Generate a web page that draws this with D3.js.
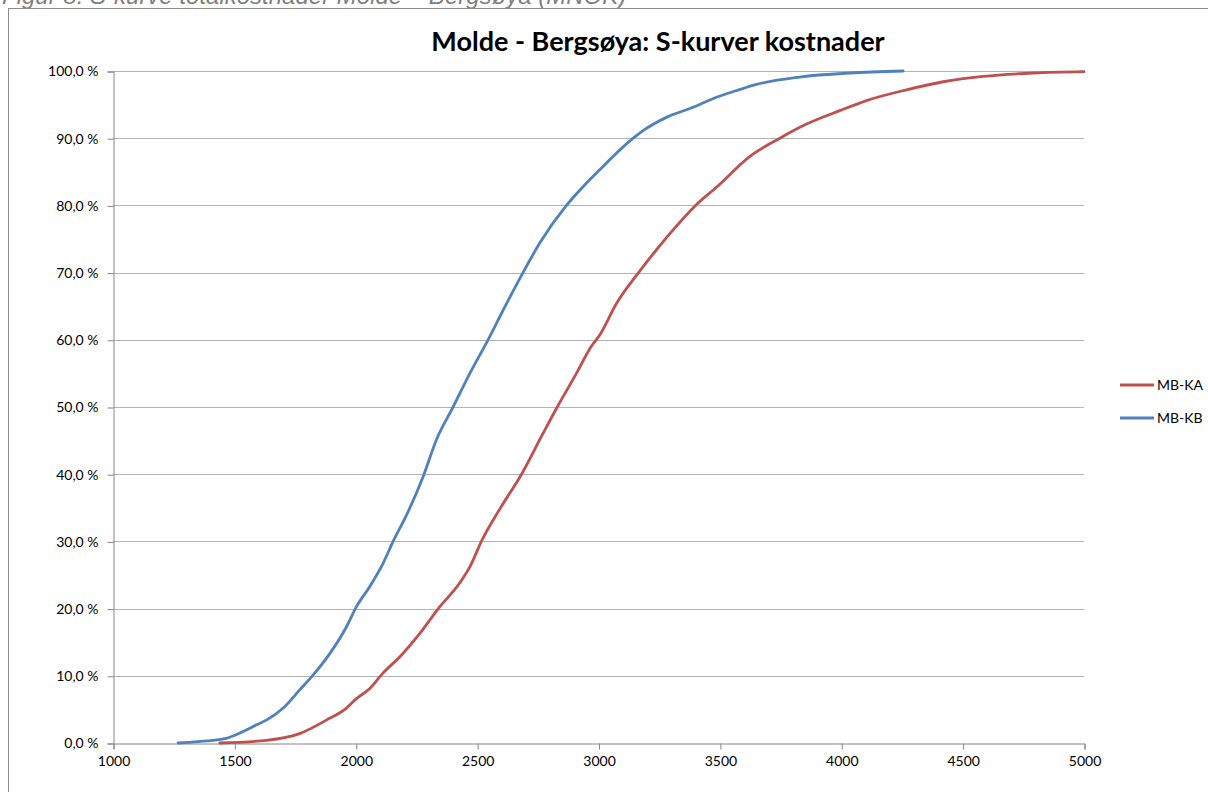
<!DOCTYPE html>
<html>
<head>
<meta charset="utf-8">
<script src="https://cdn.jsdelivr.net/npm/d3@7"></script>
<style>
body { margin: 0; background: #fff; }
svg { display: block; }
</style>
</head>
<body>
<div class="chart"></div>
<script>
var width = 1208, height = 792;

// data: cost (MNOK) and cumulative share (%)
var kaCost = [1440, 1632, 1769, 1879, 1962, 2003, 2058, 2112, 2181, 2264, 2340, 2428, 2470, 2520, 2593, 2683, 2772, 2830, 2909, 2970, 3005, 3074, 3165, 3239, 3294, 3400, 3486, 3624, 3747, 3857, 3994, 4104, 4269, 4420, 4585, 4791, 5000];
var kaPct = [0, 0.4, 1.4, 3.4, 5.2, 6.6, 8.1, 10.4, 12.8, 16.3, 20.0, 23.8, 26.2, 30.2, 34.8, 40.0, 46.1, 50.0, 55.0, 59.0, 60.7, 65.4, 70.0, 73.4, 75.8, 80.0, 82.7, 87.3, 90.0, 92.1, 94.1, 95.6, 97.2, 98.4, 99.2, 99.7, 99.9];

var kbCost = [1268, 1350, 1467, 1536, 1591, 1632, 1701, 1769, 1824, 1893, 1962, 2003, 2058, 2112, 2154, 2209, 2277, 2332, 2401, 2470, 2545, 2607, 2689, 2758, 2868, 2937, 3005, 3143, 3191, 3280, 3390, 3486, 3570, 3651, 3829, 4035, 4255];
var kbPct = [0, 0.2, 0.7, 1.7, 2.7, 3.4, 5.2, 7.9, 10.1, 13.3, 17.3, 20.3, 23.3, 26.7, 30.0, 33.9, 39.6, 45.1, 50.0, 55.0, 60.0, 64.4, 70.0, 74.4, 80.0, 82.8, 85.3, 90.0, 91.3, 93.1, 94.6, 96.1, 97.1, 98.0, 99.1, 99.7, 100];

var seriesNames = ['MB-KA', 'MB-KB'];
var seriesColors = ['#C0504D', '#4F81BD'];
var xTicks = [1000, 1500, 2000, 2500, 3000, 3500, 4000, 4500, 5000];
var yTicks = [0, 10, 20, 30, 40, 50, 60, 70, 80, 90, 100];

var series = [
	{ name: seriesNames[0], color: seriesColors[0], values: kaCost.map(function(c, i) { return { x: c, y: kaPct[i] }; }) },
	{ name: seriesNames[1], color: seriesColors[1], values: kbCost.map(function(c, i) { return { x: c, y: kbPct[i] }; }) }
];

var svg = d3.select('.chart')
	.append('svg')
	.attr('width', width)
	.attr('height', height);

// caption, cut off at the top of the page like in the source
svg.append('text')
	.attr('x', 2)
	.attr('y', 4)
	.attr('font-family', 'Liberation Sans, Arial, sans-serif')
	.attr('font-style', 'italic')
	.attr('font-size', 24)
	.attr('fill', '#7f7f7f')
	.text('Figur 8: S-kurve totalkostnader Molde – Bergsøya (MNOK)');

// chart frame
svg.append('rect')
	.attr('x', 8.5)
	.attr('y', 8.5)
	.attr('width', width + 20)
	.attr('height', height + 20)
	.attr('fill', 'none')
	.attr('stroke', '#8c8c8c')
	.attr('stroke-width', 1);

var x = d3.scaleLinear().domain([1000, 5000]).range([113, 1084]);
var y = d3.scaleLinear().domain([0, 100]).range([743, 71]);

// gridlines
svg.append('g')
	.selectAll('line')
	.data(yTicks.slice(1))
	.enter().append('line')
	.attr('x1', x(1000))
	.attr('x2', x(5000))
	.attr('y1', function(d) { return Math.round(y(d)) + 0.5; })
	.attr('y2', function(d) { return Math.round(y(d)) + 0.5; })
	.attr('stroke', '#b3b3b3')
	.attr('stroke-width', 1);

var fmtY = function(d) { return d3.format('.1f')(d).replace('.', ',') + ' %'; };

var yAxis = svg.append('g')
	.attr('transform', 'translate(' + (x(1000) + 0.5) + ',0.5)')
	.call(d3.axisLeft(y).tickValues(yTicks).tickFormat(fmtY).tickSize(6).tickPadding(9));

var xAxis = svg.append('g')
	.attr('transform', 'translate(0.5,' + (y(0) + 0.5) + ')')
	.call(d3.axisBottom(x).tickValues(xTicks).tickFormat(d3.format('d')).tickSize(6).tickPadding(7));

[yAxis, xAxis].forEach(function(a) {
	a.select('.domain').attr('stroke', '#868686');
	a.selectAll('.tick line').attr('stroke', '#868686');
	a.selectAll('text')
		.attr('font-family', 'Lato, Calibri, sans-serif')
		.attr('font-size', 14)
		.attr('fill', '#000');
});

var line = d3.line()
	.curve(d3.curveMonotoneX)
	.x(function(d) { return x(d.x); })
	.y(function(d) { return y(d.y); });

svg.append('g')
	.selectAll('path')
	.data(series)
	.enter().append('path')
	.attr('d', function(d) { return line(d.values); })
	.attr('fill', 'none')
	.attr('stroke', function(d) { return d.color; })
	.attr('stroke-width', 2.8)
	.attr('stroke-linejoin', 'round')
	.attr('stroke-linecap', 'round');

// title
svg.append('text')
	.attr('x', 658)
	.attr('y', 51)
	.attr('text-anchor', 'middle')
	.attr('font-family', 'Lato, Calibri, sans-serif')
	.attr('font-weight', 'bold')
	.attr('font-size', 27)
	.attr('fill', '#000')
	.text('Molde - Bergsøya: S-kurver kostnader');

// legend
var legend = svg.append('g')
	.selectAll('g')
	.data(series)
	.enter().append('g')
	.attr('transform', function(d, i) { return 'translate(1120,' + (385 + i * 33) + ')'; });

legend.append('line')
	.attr('x1', 0)
	.attr('x2', 34)
	.attr('stroke', function(d) { return d.color; })
	.attr('stroke-width', 2.8);

legend.append('text')
	.attr('x', 37)
	.attr('y', 5)
	.attr('font-family', 'Lato, Calibri, sans-serif')
	.attr('font-size', 14)
	.attr('fill', '#000')
	.text(function(d) { return d.name; });
</script>
</body>
</html>
